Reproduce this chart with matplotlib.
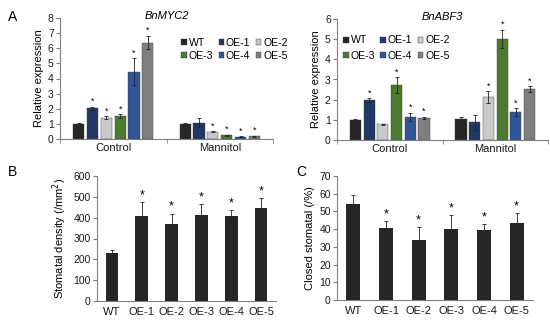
import numpy as np
import matplotlib.pyplot as plt

plt.rcParams['font.family'] = ['Liberation Sans', 'DejaVu Sans']
plt.rcParams['font.size'] = 7.5

# ---- data ----
lines = ['WT', 'OE-1', 'OE-2', 'OE-3', 'OE-4', 'OE-5']
line_colors = ['#262626', '#1f3864', '#c9c9c9', '#4b7b2f', '#2f5597', '#7f7f7f']
conditions = ['Control', 'Mannitol']

myc2_control = [1.0, 2.03, 1.42, 1.52, 4.45, 6.38]
myc2_control_err = [0.03, 0.10, 0.10, 0.10, 0.90, 0.45]
myc2_mannitol = [1.0, 1.08, 0.48, 0.25, 0.15, 0.18]
myc2_mannitol_err = [0.03, 0.30, 0.05, 0.03, 0.03, 0.05]
myc2_sig_control = [0, 1, 1, 1, 1, 1]
myc2_sig_mannitol = [0, 0, 1, 1, 1, 1]

abf3_control = [1.0, 1.98, 0.78, 2.72, 1.15, 1.10]
abf3_control_err = [0.05, 0.08, 0.02, 0.38, 0.20, 0.05]
abf3_mannitol = [1.03, 0.88, 2.12, 5.02, 1.38, 2.53]
abf3_mannitol_err = [0.10, 0.38, 0.30, 0.45, 0.20, 0.15]
abf3_sig_control = [0, 1, 0, 1, 1, 1]
abf3_sig_mannitol = [0, 0, 1, 1, 1, 1]

density = [230, 410, 370, 415, 410, 445]
density_err = [15, 65, 50, 50, 25, 50]
closed = [54, 40.5, 34, 40, 39.5, 43.5]
closed_err = [5, 4, 7, 8, 3.5, 5.5]
sig_bc = [0, 1, 1, 1, 1, 1]

W, H = 550, 322
fig = plt.figure(figsize=(W / 100, H / 100), dpi=100)


def px_axes(x0, x1, ytop, ybot):
    return fig.add_axes([x0 / W, 1 - ybot / H, (x1 - x0) / W, (ybot - ytop) / H])


def style(ax):
    for s in ['top', 'right']:
        ax.spines[s].set_visible(False)
    for s in ['left', 'bottom']:
        ax.spines[s].set_color('#7f7f7f')
        ax.spines[s].set_linewidth(0.8)
    ax.tick_params(axis='both', colors='#7f7f7f', labelcolor='#1a1a1a',
                   length=3, width=0.8, pad=1.5)


def grouped(ax, ctrl, ctrl_err, mann, mann_err, sig_c, sig_m, ymax, title):
    step, width = 0.13, 0.105
    for i, name in enumerate(lines):
        off = (i - 2.5) * step
        vals = [ctrl[i], mann[i]]
        errs = [ctrl_err[i], mann_err[i]]
        xs = np.arange(2) + off
        ax.bar(xs, vals, width, color=line_colors[i], edgecolor='#404040',
               linewidth=0.3, label=name, zorder=2)
        ax.errorbar(xs, vals, yerr=errs, fmt='none', ecolor='#222222',
                    elinewidth=0.6, capsize=1.5, capthick=0.6, zorder=3)
        for x, v, e, s in zip(xs, vals, errs, [sig_c[i], sig_m[i]]):
            if s:
                ax.text(x, v + e + ymax * 0.005, '*', ha='center', va='bottom',
                        fontsize=6.5)
    ax.set_xlim(-0.5, 1.5)
    ax.set_ylim(0, ymax)
    ax.set_yticks(range(0, ymax + 1))
    ax.set_xticks([0, 1])
    ax.set_xticklabels(conditions, fontsize=8)
    ax.set_xticks([-0.5, 0.5, 1.5], minor=True)
    ax.tick_params(axis='x', which='major', length=0, pad=3)
    ax.tick_params(axis='x', which='minor', length=3, color='#7f7f7f')
    ax.set_ylabel('Relative expression', fontsize=8, labelpad=3)
    ax.set_title(title, fontsize=8, style='italic', pad=2, x=0.5, y=0.97)
    h, l = ax.get_legend_handles_labels()
    order = [0, 3, 1, 4, 2, 5]
    return [h[k] for k in order], [l[k] for k in order]


leg_kw = dict(ncol=3, loc='upper left', frameon=False, handlelength=0.5,
              handleheight=0.5, handletextpad=0.2, columnspacing=0.5,
              borderaxespad=0, fontsize=7.6)

# Panel A left
axA1 = px_axes(60, 273, 18, 139)
style(axA1)
h, l = grouped(axA1, myc2_control, myc2_control_err, myc2_mannitol, myc2_mannitol_err,
               myc2_sig_control, myc2_sig_mannitol, 8, 'BnMYC2')
axA1.legend(h, l, bbox_to_anchor=(0.55, 0.87), labelspacing=0.3, **leg_kw)

# Panel A right
axA2 = px_axes(337, 548, 19, 140)
style(axA2)
h, l = grouped(axA2, abf3_control, abf3_control_err, abf3_mannitol, abf3_mannitol_err,
               abf3_sig_control, abf3_sig_mannitol, 6, 'BnABF3')
axA2.legend(h, l, bbox_to_anchor=(0.01, 0.9), labelspacing=0.5, **leg_kw)


def simple(ax, vals, errs, ymax, ystep, ylabel):
    x = np.arange(len(lines))
    ax.bar(x, vals, 0.43, color='#262626', zorder=2)
    ax.errorbar(x, vals, yerr=[np.zeros(len(vals)), errs], fmt='none',
                ecolor='#222222', elinewidth=0.6, capsize=1.5, capthick=0.6, zorder=3)
    for xi, v, e, s in zip(x, vals, errs, sig_bc):
        if s:
            ax.text(xi, v + e + ymax * 0.005, '*', ha='center', va='bottom', fontsize=9)
    ax.set_xlim(-0.5, len(lines) - 0.5)
    ax.set_ylim(0, ymax)
    ax.set_yticks(np.arange(0, ymax + 1, ystep))
    ax.set_xticks(x)
    ax.set_xticklabels(lines, fontsize=8)
    ax.tick_params(axis='x', length=0, pad=4)
    ax.set_ylabel(ylabel, fontsize=8, labelpad=3)


axB = px_axes(97, 276, 176, 301)
style(axB)
simple(axB, density, density_err, 600, 100, 'Stomatal density (/mm$^2$)')

axC = px_axes(337, 533, 176, 300)
style(axC)
simple(axC, closed, closed_err, 70, 10, 'Closed stomatal (/%)')

fig.text(8 / W, 1 - 17 / H, 'A', fontsize=10, va='center', ha='left')
fig.text(8 / W, 1 - 172 / H, 'B', fontsize=10, va='center', ha='left')
fig.text(296 / W, 1 - 172 / H, 'C', fontsize=10, va='center', ha='left')

fig.savefig('out.png', dpi=100)
